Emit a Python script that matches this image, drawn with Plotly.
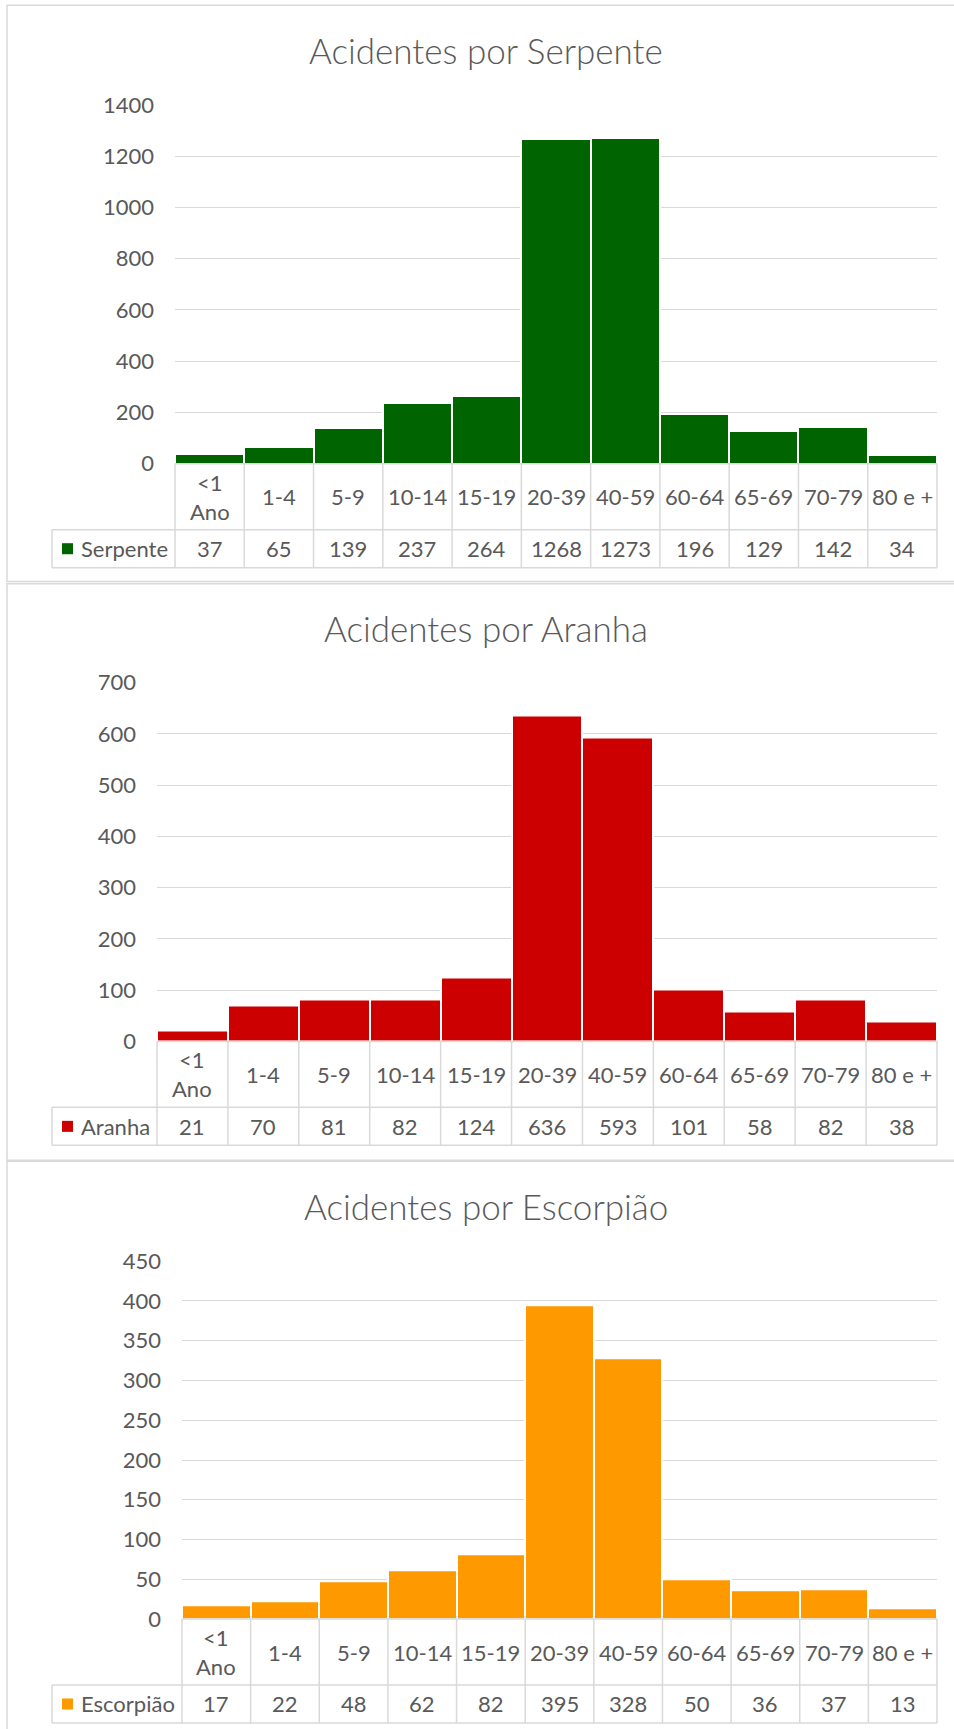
import plotly.graph_objects as go

# Age groups (shared by the three panels)
categories = ["<1 Ano", "1-4", "5-9", "10-14", "15-19", "20-39",
              "40-59", "60-64", "65-69", "70-79", "80 e +"]
category_labels = ["&lt;1<br>Ano", "1-4", "5-9", "10-14", "15-19", "20-39",
                   "40-59", "60-64", "65-69", "70-79", "80 e +"]

serpente = [37, 65, 139, 237, 264, 1268, 1273, 196, 129, 142, 34]
aranha = [21, 70, 81, 82, 124, 636, 593, 101, 58, 82, 38]
escorpiao = [17, 22, 48, 62, 82, 395, 328, 50, 36, 37, 13]

series_names = ["Serpente", "Aranha", "Escorpião"]
titles = ["Acidentes por Serpente", "Acidentes por Aranha", "Acidentes por Escorpião"]
y_max = [1400, 700, 450]
y_step = [200, 100, 50]

# ---- styling / geometry (figure pixels) ----
W, H = 954, 1729
FONT = "Lato"
TEXT = "#595959"
GRID = "#d9d9d9"
colors = ["#006400", "#cc0000", "#ff9900"]

panel_top = [-9, 578.7, 1165.5]        # outer frame of each panel
panel_bottom = [576.6, 1164.5, 1772]
plot_left = [175, 157, 182]
plot_right = 937
plot_top = [92.4, 679.2, 1267.0]
plot_zero = [456.9, 1043.7, 1630.5]
title_y = [36.5, 623.4, 1211.2]
title_x = 486
table_left = 52
row1_h = 67.0   # category row
row2_h = 38.6   # value row


def py(px):
    """figure pixel row -> paper fraction"""
    return 1 - px / H


fig = go.Figure()
shapes = []
annotations = []

values_all = [serpente, aranha, escorpiao]

for k in range(3):
    sfx = "" if k == 0 else str(k + 1)
    xa, ya = "x" + sfx, "y" + sfx
    vals = values_all[k]
    left = plot_left[k]
    top, zero = plot_top[k], plot_zero[k]
    ph = zero - top
    pw = plot_right - left

    def xd(px, left=left, pw=pw):
        return (px - left) / pw

    def yd(px, zero=zero, ph=ph):
        return (zero - px) / ph

    fig.add_trace(go.Bar(
        x=categories, y=vals, xaxis=xa, yaxis=ya,
        marker=dict(color=colors[k], line=dict(color="white", width=2)),
        name=series_names[k], showlegend=False, hoverinfo="x+y",
    ))

    fig.layout["xaxis" + sfx] = dict(
        domain=[left / W, plot_right / W], anchor=ya,
        type="category", range=[-0.5, len(categories) - 0.5],
        showticklabels=False, showgrid=False, zeroline=False, showline=False,
        fixedrange=True,
    )
    fig.layout["yaxis" + sfx] = dict(
        domain=[py(zero), py(top)], anchor=xa,
        range=[0, y_max[k]], dtick=y_step[k], tick0=0,
        showgrid=True, gridcolor=GRID, gridwidth=1.3,
        zeroline=False, showline=False, ticks="",
        ticklabelstandoff=20,
        tickfont=dict(family=FONT, size=22, color=TEXT),
        fixedrange=True,
    )

    xr, yr = xa + " domain", ya + " domain"
    line = dict(color=GRID, width=1.5)
    n = len(categories)
    r1 = zero + row1_h
    r2 = zero + row1_h + row2_h

    # data table grid
    shapes.append(dict(type="line", xref=xr, yref=yr, x0=0, x1=1,
                       y0=0, y1=0, line=line))
    for yy in (r1, r2):
        shapes.append(dict(type="line", xref=xr, yref=yr, x0=xd(table_left), x1=1,
                           y0=yd(yy), y1=yd(yy), line=line))
    shapes.append(dict(type="line", xref=xr, yref=yr, x0=xd(table_left), x1=xd(table_left),
                       y0=yd(r1), y1=yd(r2), line=line))
    for i in range(n + 1):
        shapes.append(dict(type="line", xref=xr, yref=yr, x0=i / n, x1=i / n,
                           y0=0, y1=yd(r2), line=line))

    # category labels and values
    for cat, lab, v in zip(categories, category_labels, vals):
        annotations.append(dict(xref=xa, yref=yr, x=cat, y=yd(zero + row1_h / 2),
                                text=lab, showarrow=False, xanchor="center", yanchor="middle",
                                font=dict(family=FONT, size=22, color=TEXT)))
        annotations.append(dict(xref=xa, yref=yr, x=cat, y=yd(r1 + row2_h / 2),
                                text=str(v), showarrow=False, xanchor="center", yanchor="middle",
                                font=dict(family=FONT, size=22, color=TEXT)))

    # legend key + series name in first column
    ymid = r1 + row2_h / 2
    shapes.append(dict(type="rect", xref=xr, yref=yr,
                       x0=xd(62), x1=xd(73), y0=yd(ymid - 5.6), y1=yd(ymid + 5.6),
                       fillcolor=colors[k], line=dict(width=0)))
    annotations.append(dict(xref=xr, yref=yr, x=xd(79), y=yd(ymid),
                            text=series_names[k], showarrow=False,
                            xanchor="left", yanchor="middle",
                            font=dict(family=FONT, size=22, color=TEXT)))

    # panel title
    annotations.append(dict(xref="paper", yref="paper", x=title_x / W, y=py(title_y[k]),
                            text=titles[k], showarrow=False, xanchor="center", yanchor="middle",
                            font=dict(family=FONT, size=35, color=TEXT, weight=300)))

    # panel frame
    shapes.append(dict(type="rect", xref="paper", yref="paper",
                       x0=7 / W, x1=975 / W,
                       y0=py(panel_bottom[k]), y1=py(panel_top[k]),
                       line=dict(color=GRID, width=1.5), fillcolor="rgba(0,0,0,0)"))

fig.update_layout(
    width=W, height=H,
    margin=dict(l=0, r=0, t=0, b=0),
    paper_bgcolor="white", plot_bgcolor="white",
    bargap=0, barmode="group",
    shapes=shapes, annotations=annotations,
    showlegend=False,
)

fig.write_html("out.html")
